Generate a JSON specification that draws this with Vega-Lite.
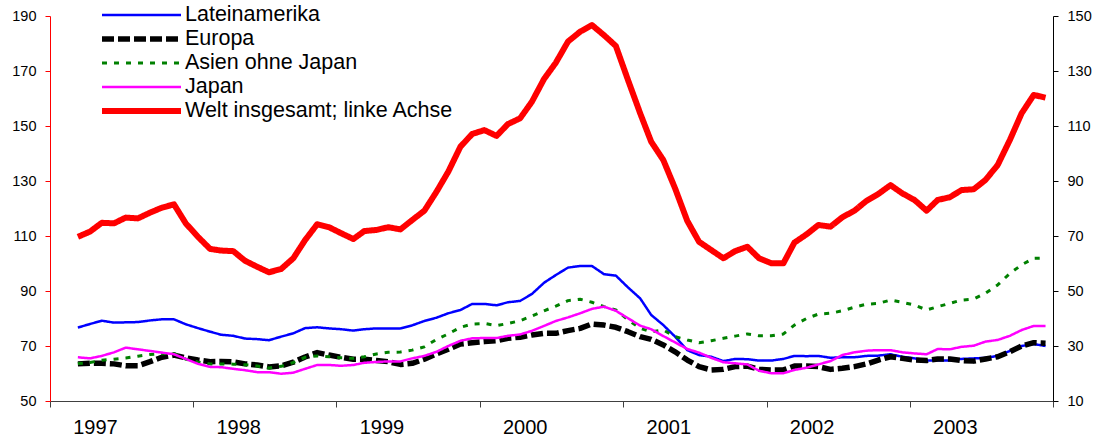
{
  "$schema": "https://vega.github.io/schema/vega-lite/v6.json",
  "width": 1003,
  "height": 385,
  "autosize": {"type": "none"},
  "padding": {"left": 50, "top": 16, "right": 43, "bottom": 42},
  "background": "white",
  "config": {
    "font": "Liberation Sans",
    "view": {"stroke": null},
    "axis": {"grid": false},
    "legend": {
      "orient": "none",
      "legendX": 49,
      "legendY": -13,
      "labelFont": "Liberation Sans",
      "labelFontSize": 21.5,
      "labelColor": "#000000",
      "symbolType": "stroke",
      "symbolSize": 6241,
      "labelOffset": 1,
      "clipHeight": 23.8,
      "rowPadding": 0,
      "padding": 0,
      "labelLimit": 500
    }
  },
  "data": {
    "values": [
      {"d": "1997-03-01", "Lateinamerika": 36.7, "Europa": 23.5, "Asien ohne Japan": 23.6, "Japan": 25.9, "Welt insgesamt; linke Achse": 109.7},
      {"d": "1997-04-01", "Lateinamerika": 38.0, "Europa": 23.7, "Asien ohne Japan": 24.0, "Japan": 25.5, "Welt insgesamt; linke Achse": 111.6},
      {"d": "1997-05-01", "Lateinamerika": 39.2, "Europa": 23.7, "Asien ohne Japan": 24.8, "Japan": 26.4, "Welt insgesamt; linke Achse": 114.8},
      {"d": "1997-06-01", "Lateinamerika": 38.5, "Europa": 23.5, "Asien ohne Japan": 25.2, "Japan": 27.7, "Welt insgesamt; linke Achse": 114.6},
      {"d": "1997-07-01", "Lateinamerika": 38.6, "Europa": 22.8, "Asien ohne Japan": 25.6, "Japan": 29.4, "Welt insgesamt; linke Achse": 116.7},
      {"d": "1997-08-01", "Lateinamerika": 38.7, "Europa": 22.8, "Asien ohne Japan": 26.3, "Japan": 28.8, "Welt insgesamt; linke Achse": 116.4},
      {"d": "1997-09-01", "Lateinamerika": 39.3, "Europa": 24.3, "Asien ohne Japan": 26.9, "Japan": 28.2, "Welt insgesamt; linke Achse": 118.5},
      {"d": "1997-10-01", "Lateinamerika": 39.7, "Europa": 25.9, "Asien ohne Japan": 27.2, "Japan": 27.6, "Welt insgesamt; linke Achse": 120.3},
      {"d": "1997-11-01", "Lateinamerika": 39.7, "Europa": 26.7, "Asien ohne Japan": 27.3, "Japan": 27.0, "Welt insgesamt; linke Achse": 121.5},
      {"d": "1997-12-01", "Lateinamerika": 37.9, "Europa": 25.7, "Asien ohne Japan": 25.2, "Japan": 25.3, "Welt insgesamt; linke Achse": 114.6},
      {"d": "1998-01-01", "Lateinamerika": 36.5, "Europa": 24.9, "Asien ohne Japan": 24.2, "Japan": 23.5, "Welt insgesamt; linke Achse": 109.7},
      {"d": "1998-02-01", "Lateinamerika": 35.2, "Europa": 24.3, "Asien ohne Japan": 23.5, "Japan": 22.4, "Welt insgesamt; linke Achse": 105.3},
      {"d": "1998-03-01", "Lateinamerika": 34.1, "Europa": 24.4, "Asien ohne Japan": 23.5, "Japan": 22.3, "Welt insgesamt; linke Achse": 104.7},
      {"d": "1998-04-01", "Lateinamerika": 33.7, "Europa": 24.2, "Asien ohne Japan": 23.4, "Japan": 21.7, "Welt insgesamt; linke Achse": 104.5},
      {"d": "1998-05-01", "Lateinamerika": 32.7, "Europa": 23.5, "Asien ohne Japan": 23.2, "Japan": 21.2, "Welt insgesamt; linke Achse": 101.0},
      {"d": "1998-06-01", "Lateinamerika": 32.5, "Europa": 23.1, "Asien ohne Japan": 22.7, "Japan": 20.5, "Welt insgesamt; linke Achse": 98.8},
      {"d": "1998-07-01", "Lateinamerika": 32.1, "Europa": 22.4, "Asien ohne Japan": 22.0, "Japan": 20.5, "Welt insgesamt; linke Achse": 96.8},
      {"d": "1998-08-01", "Lateinamerika": 33.4, "Europa": 22.8, "Asien ohne Japan": 22.6, "Japan": 19.9, "Welt insgesamt; linke Achse": 98.0},
      {"d": "1998-09-01", "Lateinamerika": 34.6, "Europa": 24.1, "Asien ohne Japan": 24.0, "Japan": 20.3, "Welt insgesamt; linke Achse": 101.9},
      {"d": "1998-10-01", "Lateinamerika": 36.5, "Europa": 26.0, "Asien ohne Japan": 25.9, "Japan": 21.7, "Welt insgesamt; linke Achse": 108.5},
      {"d": "1998-11-01", "Lateinamerika": 36.8, "Europa": 27.6, "Asien ohne Japan": 26.4, "Japan": 23.1, "Welt insgesamt; linke Achse": 114.3},
      {"d": "1998-12-01", "Lateinamerika": 36.4, "Europa": 26.7, "Asien ohne Japan": 26.1, "Japan": 23.1, "Welt insgesamt; linke Achse": 113.2},
      {"d": "1999-01-01", "Lateinamerika": 36.1, "Europa": 25.9, "Asien ohne Japan": 25.7, "Japan": 22.8, "Welt insgesamt; linke Achse": 111.0},
      {"d": "1999-02-01", "Lateinamerika": 35.6, "Europa": 25.2, "Asien ohne Japan": 25.5, "Japan": 23.1, "Welt insgesamt; linke Achse": 108.9},
      {"d": "1999-03-01", "Lateinamerika": 36.1, "Europa": 25.2, "Asien ohne Japan": 26.1, "Japan": 23.9, "Welt insgesamt; linke Achse": 111.8},
      {"d": "1999-04-01", "Lateinamerika": 36.4, "Europa": 24.7, "Asien ohne Japan": 27.1, "Japan": 24.2, "Welt insgesamt; linke Achse": 112.2},
      {"d": "1999-05-01", "Lateinamerika": 36.4, "Europa": 24.3, "Asien ohne Japan": 27.7, "Japan": 24.4, "Welt insgesamt; linke Achse": 113.2},
      {"d": "1999-06-01", "Lateinamerika": 36.4, "Europa": 23.3, "Asien ohne Japan": 27.8, "Japan": 24.4, "Welt insgesamt; linke Achse": 112.4},
      {"d": "1999-07-01", "Lateinamerika": 37.5, "Europa": 23.7, "Asien ohne Japan": 28.5, "Japan": 25.5, "Welt insgesamt; linke Achse": 115.8},
      {"d": "1999-08-01", "Lateinamerika": 39.1, "Europa": 25.2, "Asien ohne Japan": 29.7, "Japan": 26.4, "Welt insgesamt; linke Achse": 119.2},
      {"d": "1999-09-01", "Lateinamerika": 40.3, "Europa": 27.1, "Asien ohne Japan": 32.4, "Japan": 27.9, "Welt insgesamt; linke Achse": 126.1},
      {"d": "1999-10-01", "Lateinamerika": 41.9, "Europa": 28.8, "Asien ohne Japan": 34.4, "Japan": 30.0, "Welt insgesamt; linke Achse": 133.4},
      {"d": "1999-11-01", "Lateinamerika": 43.1, "Europa": 30.7, "Asien ohne Japan": 36.8, "Japan": 31.9, "Welt insgesamt; linke Achse": 142.5},
      {"d": "1999-12-01", "Lateinamerika": 45.3, "Europa": 31.2, "Asien ohne Japan": 38.0, "Japan": 32.8, "Welt insgesamt; linke Achse": 147.1},
      {"d": "2000-01-01", "Lateinamerika": 45.3, "Europa": 31.6, "Asien ohne Japan": 38.2, "Japan": 32.9, "Welt insgesamt; linke Achse": 148.5},
      {"d": "2000-02-01", "Lateinamerika": 44.8, "Europa": 31.9, "Asien ohne Japan": 37.4, "Japan": 32.9, "Welt insgesamt; linke Achse": 146.4},
      {"d": "2000-03-01", "Lateinamerika": 45.9, "Europa": 32.8, "Asien ohne Japan": 38.2, "Japan": 33.7, "Welt insgesamt; linke Achse": 150.7},
      {"d": "2000-04-01", "Lateinamerika": 46.4, "Europa": 33.2, "Asien ohne Japan": 39.2, "Japan": 34.2, "Welt insgesamt; linke Achse": 152.8},
      {"d": "2000-05-01", "Lateinamerika": 48.9, "Europa": 34.0, "Asien ohne Japan": 40.9, "Japan": 35.5, "Welt insgesamt; linke Achse": 158.8},
      {"d": "2000-06-01", "Lateinamerika": 53.0, "Europa": 34.6, "Asien ohne Japan": 42.8, "Japan": 37.3, "Welt insgesamt; linke Achse": 167.1},
      {"d": "2000-07-01", "Lateinamerika": 55.8, "Europa": 34.6, "Asien ohne Japan": 44.5, "Japan": 39.1, "Welt insgesamt; linke Achse": 173.0},
      {"d": "2000-08-01", "Lateinamerika": 58.5, "Europa": 35.6, "Asien ohne Japan": 46.5, "Japan": 40.4, "Welt insgesamt; linke Achse": 180.7},
      {"d": "2000-09-01", "Lateinamerika": 59.1, "Europa": 36.4, "Asien ohne Japan": 47.0, "Japan": 41.9, "Welt insgesamt; linke Achse": 184.3},
      {"d": "2000-10-01", "Lateinamerika": 59.1, "Europa": 38.0, "Asien ohne Japan": 45.9, "Japan": 43.5, "Welt insgesamt; linke Achse": 186.7},
      {"d": "2000-11-01", "Lateinamerika": 56.1, "Europa": 37.6, "Asien ohne Japan": 44.3, "Japan": 44.3, "Welt insgesamt; linke Achse": 183.0},
      {"d": "2000-12-01", "Lateinamerika": 55.6, "Europa": 36.8, "Asien ohne Japan": 43.1, "Japan": 42.8, "Welt insgesamt; linke Achse": 179.1},
      {"d": "2001-01-01", "Lateinamerika": 51.3, "Europa": 35.2, "Asien ohne Japan": 39.5, "Japan": 40.1, "Welt insgesamt; linke Achse": 166.7},
      {"d": "2001-02-01", "Lateinamerika": 47.3, "Europa": 33.4, "Asien ohne Japan": 36.4, "Japan": 37.4, "Welt insgesamt; linke Achse": 154.6},
      {"d": "2001-03-01", "Lateinamerika": 41.3, "Europa": 32.4, "Asien ohne Japan": 35.2, "Japan": 36.1, "Welt insgesamt; linke Achse": 144.3},
      {"d": "2001-04-01", "Lateinamerika": 37.6, "Europa": 30.4, "Asien ohne Japan": 35.8, "Japan": 33.6, "Welt insgesamt; linke Achse": 137.6},
      {"d": "2001-05-01", "Lateinamerika": 33.4, "Europa": 27.9, "Asien ohne Japan": 33.4, "Japan": 31.3, "Welt insgesamt; linke Achse": 127.3},
      {"d": "2001-06-01", "Lateinamerika": 28.5, "Europa": 24.9, "Asien ohne Japan": 32.2, "Japan": 28.9, "Welt insgesamt; linke Achse": 115.5},
      {"d": "2001-07-01", "Lateinamerika": 26.7, "Europa": 22.5, "Asien ohne Japan": 31.2, "Japan": 27.6, "Welt insgesamt; linke Achse": 107.9},
      {"d": "2001-08-01", "Lateinamerika": 26.1, "Europa": 21.3, "Asien ohne Japan": 31.9, "Japan": 25.7, "Welt insgesamt; linke Achse": 104.9},
      {"d": "2001-09-01", "Lateinamerika": 24.5, "Europa": 21.5, "Asien ohne Japan": 32.8, "Japan": 24.1, "Welt insgesamt; linke Achse": 101.9},
      {"d": "2001-10-01", "Lateinamerika": 25.3, "Europa": 22.5, "Asien ohne Japan": 33.6, "Japan": 23.7, "Welt insgesamt; linke Achse": 104.5},
      {"d": "2001-11-01", "Lateinamerika": 25.2, "Europa": 22.7, "Asien ohne Japan": 34.4, "Japan": 23.3, "Welt insgesamt; linke Achse": 106.1},
      {"d": "2001-12-01", "Lateinamerika": 24.7, "Europa": 21.5, "Asien ohne Japan": 33.7, "Japan": 21.0, "Welt insgesamt; linke Achse": 101.9},
      {"d": "2002-01-01", "Lateinamerika": 24.7, "Europa": 21.3, "Asien ohne Japan": 33.7, "Japan": 20.1, "Welt insgesamt; linke Achse": 100.1},
      {"d": "2002-02-01", "Lateinamerika": 25.3, "Europa": 21.3, "Asien ohne Japan": 34.4, "Japan": 20.1, "Welt insgesamt; linke Achse": 100.1},
      {"d": "2002-03-01", "Lateinamerika": 26.4, "Europa": 22.7, "Asien ohne Japan": 37.6, "Japan": 21.3, "Welt insgesamt; linke Achse": 107.6},
      {"d": "2002-04-01", "Lateinamerika": 26.3, "Europa": 22.7, "Asien ohne Japan": 40.0, "Japan": 22.1, "Welt insgesamt; linke Achse": 110.6},
      {"d": "2002-05-01", "Lateinamerika": 26.4, "Europa": 22.5, "Asien ohne Japan": 41.6, "Japan": 23.3, "Welt insgesamt; linke Achse": 114.0},
      {"d": "2002-06-01", "Lateinamerika": 25.7, "Europa": 21.5, "Asien ohne Japan": 41.9, "Japan": 24.5, "Welt insgesamt; linke Achse": 113.4},
      {"d": "2002-07-01", "Lateinamerika": 25.9, "Europa": 21.9, "Asien ohne Japan": 42.8, "Japan": 26.7, "Welt insgesamt; linke Achse": 116.8},
      {"d": "2002-08-01", "Lateinamerika": 25.9, "Europa": 22.5, "Asien ohne Japan": 44.1, "Japan": 27.7, "Welt insgesamt; linke Achse": 119.2},
      {"d": "2002-09-01", "Lateinamerika": 26.4, "Europa": 23.5, "Asien ohne Japan": 45.2, "Japan": 28.3, "Welt insgesamt; linke Achse": 122.8},
      {"d": "2002-10-01", "Lateinamerika": 26.5, "Europa": 24.9, "Asien ohne Japan": 45.5, "Japan": 28.5, "Welt insgesamt; linke Achse": 125.3},
      {"d": "2002-11-01", "Lateinamerika": 27.0, "Europa": 26.1, "Asien ohne Japan": 46.7, "Japan": 28.5, "Welt insgesamt; linke Achse": 128.5},
      {"d": "2002-12-01", "Lateinamerika": 26.1, "Europa": 25.5, "Asien ohne Japan": 45.9, "Japan": 27.7, "Welt insgesamt; linke Achse": 125.5},
      {"d": "2003-01-01", "Lateinamerika": 25.5, "Europa": 24.9, "Asien ohne Japan": 44.9, "Japan": 27.3, "Welt insgesamt; linke Achse": 123.1},
      {"d": "2003-02-01", "Lateinamerika": 24.7, "Europa": 24.7, "Asien ohne Japan": 43.1, "Japan": 27.0, "Welt insgesamt; linke Achse": 119.2},
      {"d": "2003-03-01", "Lateinamerika": 24.7, "Europa": 25.3, "Asien ohne Japan": 44.3, "Japan": 28.9, "Welt insgesamt; linke Achse": 123.1},
      {"d": "2003-04-01", "Lateinamerika": 24.7, "Europa": 25.3, "Asien ohne Japan": 45.5, "Japan": 28.8, "Welt insgesamt; linke Achse": 124.1},
      {"d": "2003-05-01", "Lateinamerika": 25.3, "Europa": 24.7, "Asien ohne Japan": 46.7, "Japan": 29.7, "Welt insgesamt; linke Achse": 126.7},
      {"d": "2003-06-01", "Lateinamerika": 25.5, "Europa": 24.5, "Asien ohne Japan": 47.1, "Japan": 30.1, "Welt insgesamt; linke Achse": 127.0},
      {"d": "2003-07-01", "Lateinamerika": 25.7, "Europa": 25.3, "Asien ohne Japan": 49.2, "Japan": 31.6, "Welt insgesamt; linke Achse": 130.4},
      {"d": "2003-08-01", "Lateinamerika": 26.4, "Europa": 26.1, "Asien ohne Japan": 52.2, "Japan": 32.2, "Welt insgesamt; linke Achse": 135.8},
      {"d": "2003-09-01", "Lateinamerika": 28.2, "Europa": 27.9, "Asien ohne Japan": 56.4, "Japan": 33.7, "Welt insgesamt; linke Achse": 144.9},
      {"d": "2003-10-01", "Lateinamerika": 30.0, "Europa": 30.0, "Asien ohne Japan": 59.5, "Japan": 35.8, "Welt insgesamt; linke Achse": 154.6},
      {"d": "2003-11-01", "Lateinamerika": 30.7, "Europa": 31.2, "Asien ohne Japan": 61.9, "Japan": 37.3, "Welt insgesamt; linke Achse": 161.3},
      {"d": "2003-12-01", "Lateinamerika": 30.0, "Europa": 31.0, "Asien ohne Japan": 62.0, "Japan": 37.3, "Welt insgesamt; linke Achse": 160.3}
    ]
  },
  "encoding": {
    "x": {
      "field": "d",
      "type": "temporal",
      "scale": {
        "domain": [
          {"year": 1996, "month": 12, "date": 20, "utc": true},
          {"year": 2003, "month": 12, "date": 20, "utc": true}
        ]
      },
      "axis": {
        "title": null,
        "values": [
          {"year": 1996, "month": 12, "date": 20, "utc": true},
          {"year": 1997, "month": 12, "date": 20, "utc": true},
          {"year": 1998, "month": 12, "date": 20, "utc": true},
          {"year": 1999, "month": 12, "date": 20, "utc": true},
          {"year": 2000, "month": 12, "date": 20, "utc": true},
          {"year": 2001, "month": 12, "date": 20, "utc": true},
          {"year": 2002, "month": 12, "date": 20, "utc": true},
          {"year": 2003, "month": 12, "date": 20, "utc": true}
        ],
        "labelExpr": "utcyear(datum.value) >= 2003 ? '' : '' + (utcyear(datum.value) + 1)",
        "labelOffset": 45,
        "labelAngle": 0,
        "tickSize": 6,
        "labelPadding": 10,
        "labelFontSize": 20,
        "labelColor": "#000000",
        "domainColor": "#404040",
        "tickColor": "#404040",
        "labelOverlap": false,
        "labelFlush": false,
        "labelBound": false,
        "grid": false
      }
    },
    "color": {
      "field": "series",
      "type": "nominal",
      "scale": {
        "domain": ["Lateinamerika", "Europa", "Asien ohne Japan", "Japan", "Welt insgesamt; linke Achse"],
        "range": ["#0000FF", "#000000", "#008000", "#FF00FF", "#FF0000"]
      },
      "legend": {"title": null}
    },
    "strokeDash": {
      "field": "series",
      "type": "nominal",
      "scale": {
        "domain": ["Lateinamerika", "Europa", "Asien ohne Japan", "Japan", "Welt insgesamt; linke Achse"],
        "range": [[1, 0], [12, 4], [5, 7], [1, 0], [1, 0]]
      },
      "legend": {"title": null}
    },
    "strokeWidth": {
      "field": "series",
      "type": "nominal",
      "scale": {
        "type": "ordinal",
        "domain": ["Lateinamerika", "Europa", "Asien ohne Japan", "Japan", "Welt insgesamt; linke Achse"],
        "range": [2.5, 5.5, 3, 2.5, 6]
      },
      "legend": {"title": null}
    }
  },
  "layer": [
    {
      "transform": [
        {"fold": ["Lateinamerika", "Europa", "Asien ohne Japan", "Japan"], "as": ["series", "value"]}
      ],
      "mark": {"type": "line", "strokeJoin": "round", "strokeCap": "butt"},
      "encoding": {
        "y": {
          "field": "value",
          "type": "quantitative",
          "scale": {"domain": [10, 150], "nice": false, "zero": false},
          "axis": {
            "orient": "right",
            "title": null,
            "values": [10, 30, 50, 70, 90, 110, 130, 150],
            "tickSize": 5,
            "labelPadding": 9,
            "labelFontSize": 14.5,
            "labelColor": "#000000",
            "domainColor": "#000000",
            "tickColor": "#000000",
            "labelFlush": false,
            "grid": false
          }
        }
      }
    },
    {
      "transform": [
        {"fold": ["Welt insgesamt; linke Achse"], "as": ["series", "value"]}
      ],
      "mark": {"type": "line", "strokeJoin": "round", "strokeCap": "butt"},
      "encoding": {
        "y": {
          "field": "value",
          "type": "quantitative",
          "scale": {"domain": [50, 190], "nice": false, "zero": false},
          "axis": {
            "orient": "left",
            "title": null,
            "values": [50, 70, 90, 110, 130, 150, 170, 190],
            "tickSize": 5,
            "labelPadding": 9,
            "labelFontSize": 14.5,
            "labelColor": "#000000",
            "domainColor": "#FF0000",
            "tickColor": "#FF0000",
            "labelFlush": false,
            "grid": false
          }
        }
      }
    }
  ],
  "resolve": {"scale": {"y": "independent"}}
}
